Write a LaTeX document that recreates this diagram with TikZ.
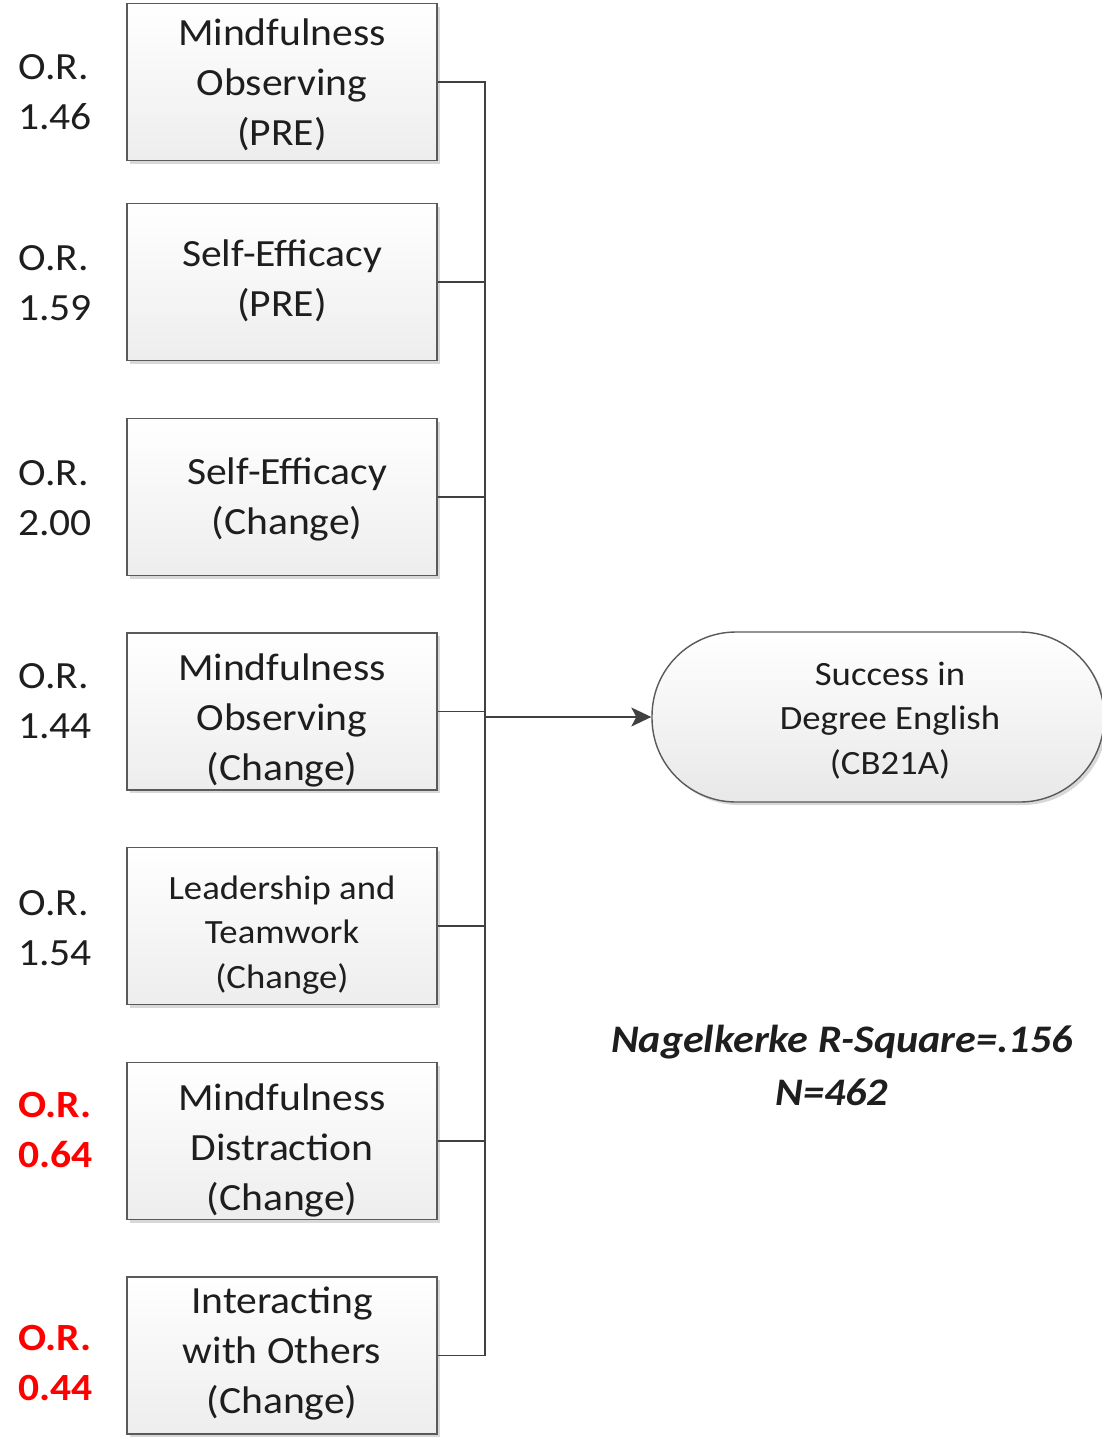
\documentclass[tikz,border=0pt]{standalone}
\usepackage{fontspec}
\setmainfont{Carlito}[FakeStretch=1.08]
\usetikzlibrary{shadows,arrows.meta}
\definecolor{txt}{HTML}{1E1E1E}
\definecolor{ln}{HTML}{404040}
\definecolor{bd}{HTML}{5A5A5A}
\definecolor{orred}{HTML}{FF0000}
\begin{document}
\begin{tikzpicture}[x=1pt,y=-1pt,
  box/.style={draw=bd, line width=1.4pt, top color=white, bottom color=gray!14,
    minimum width=310pt, minimum height=157pt, inner sep=0pt,
    drop shadow={shadow xshift=3pt,shadow yshift=-3pt,fill=gray!50,opacity=0.6}},
  outbox/.style={draw=bd, line width=1.4pt, top color=white, bottom color=gray!18,
    rounded corners=84pt, minimum width=452pt, minimum height=170pt, inner sep=0pt,
    drop shadow={shadow xshift=3pt,shadow yshift=-3pt,fill=gray!50,opacity=0.6}},
  bigtxt/.style={align=center, text=txt, inner sep=0pt, font=\fontsize{38.5}{50}\selectfont},
  smalltxt/.style={align=center, text=txt, inner sep=0pt, font=\fontsize{34}{44.5}\selectfont},
  ortxt/.style={align=left, anchor=west, text=txt, inner sep=0pt, font=\fontsize{38.5}{50}\selectfont},
  orred/.style={align=left, anchor=west, text=orred, inner sep=0pt, font=\bfseries\fontsize{38.5}{50}\selectfont},
  stattxt/.style={text=txt, inner sep=0pt, font=\bfseries\itshape\fontsize{39}{50}\selectfont},
  conn/.style={draw=ln, line width=1.4pt},
  arr/.style={conn, -{Stealth[length=20pt,width=19pt,inset=5pt]}}
]
\useasboundingbox (0,0) rectangle (1102,1440);
\fill[white] (0,0) rectangle (1102,1440);

% boxes
\node[box] (b1) at (282,82) {};
\node[box] (b2) at (282,282) {};
\node[box] (b3) at (282,497) {};
\node[box] (b4) at (282,711.5) {};
\node[box] (b5) at (282,926) {};
\node[box] (b6) at (282,1141) {};
\node[box] (b7) at (282,1355.5) {};

% outcome
\node[outbox] (out) at (878,717) {};

% box texts
\node[bigtxt] (t1) at (282,84.5) {Mindfulness\\Observing\\(PRE)};
\node[bigtxt] (t2) at (282,280.5) {Self-Efficacy\\(PRE)};
\node[bigtxt] (t3) at (287,499) {Self-Efficacy\\(Change)};
\node[bigtxt] (t4) at (282,720.5) {Mindfulness\\Observing\\(Change)};
\node[smalltxt] (t5) at (282,935) {Leadership and\\Teamwork\\(Change)};
\node[bigtxt] (t6) at (282,1150.5) {Mindfulness\\Distraction\\(Change)};
\node[bigtxt] (t7) at (282,1353.5) {Interacting\\with Others\\(Change)};
\node[smalltxt] (tout) at (890,720.5) {Success in\\Degree English\\(CB21A)};

% odds ratios
\node[ortxt] (o1) at (18,92.5) {O.R.\\1.46};
\node[ortxt] (o2) at (18,283) {O.R.\\1.59};
\node[ortxt] (o3) at (18,498) {O.R.\\2.00};
\node[ortxt] (o4) at (18,701) {O.R.\\1.44};
\node[ortxt] (o5) at (18,928) {O.R.\\1.54};
\node[orred] (o6) at (18,1130) {O.R.\\0.64};
\node[orred] (o7) at (18,1362.5) {O.R.\\0.44};

% statistics
\node[stattxt] (s1) at (842,1042) {Nagelkerke R-Square=.156};
\node[stattxt] (s2) at (832,1092) {N=462};

% connectors
\coordinate (bus) at (485,717);
\foreach \b in {b1,b2,b3,b4,b5,b6,b7} {
  \draw[conn] (\b.east) -| (bus);
}
\draw[arr] (bus) -- (out.west);
\end{tikzpicture}
\end{document}
